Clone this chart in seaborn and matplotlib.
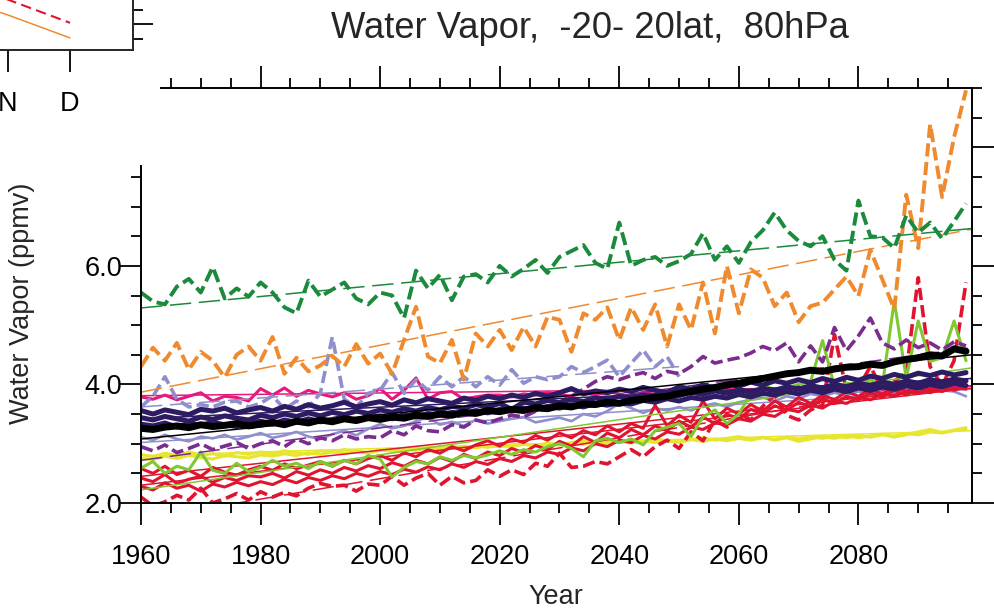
import numpy as np
import pandas as pd
import matplotlib
matplotlib.use("Agg")
import matplotlib.pyplot as plt
import seaborn as sns
from matplotlib.patches import Rectangle
from matplotlib.ticker import MultipleLocator, FixedLocator, NullFormatter

sns.set_style("white")
plt.rcParams['font.family'] = ['Liberation Sans', 'DejaVu Sans']

# ---------------- data (ppmv), every 2 years 1960-2098 ----------------
years = list(range(1960, 2100, 2))
years_short = list(range(1960, 2052, 2))

green_dash = [5.55, 5.40, 5.35, 5.65, 5.78, 5.55, 5.98, 5.45, 5.62, 5.48,
              5.72, 5.55, 5.30, 5.20, 5.75, 5.48, 5.60, 5.72, 5.45, 5.35,
              5.55, 5.50, 5.12, 5.92, 5.62, 5.85, 5.42, 5.82, 5.86, 5.72,
              6.00, 5.82, 5.95, 6.10, 5.88, 6.15, 6.25, 6.35, 6.05, 5.95,
              6.73, 6.00, 6.10, 6.15, 6.00, 6.08, 6.20, 6.55, 6.10, 6.33,
              6.05, 6.40, 6.60, 6.90, 6.60, 6.42, 6.33, 6.50, 6.10, 5.92,
              7.10, 6.50, 6.48, 6.30, 6.85, 6.56, 6.73, 6.46, 6.75, 7.05]
orange_dash = [4.30, 4.62, 4.40, 4.70, 4.25, 4.55, 4.40, 4.12, 4.50, 4.64,
               4.40, 4.80, 4.18, 4.45, 4.22, 4.32, 4.48, 4.30, 4.68, 4.35,
               4.52, 4.18, 4.75, 5.31, 4.47, 4.36, 4.75, 4.08, 4.86, 4.64,
               4.92, 4.58, 4.97, 4.64, 5.14, 5.09, 4.55, 5.20, 5.09, 5.30,
               4.75, 5.30, 4.92, 5.35, 4.64, 5.35, 4.92, 5.72, 4.86, 6.00,
               5.20, 5.94, 5.80, 5.32, 5.55, 5.05, 5.32, 5.38, 5.60, 5.82,
               5.49, 6.27, 5.77, 5.27, 7.20, 6.30, 8.39, 7.16, 8.17, 8.96]
lavender_dash = [3.62, 3.80, 4.13, 3.75, 3.62, 3.66, 3.62, 3.70, 3.72, 3.62,
                 3.68, 3.81, 3.58, 3.72, 3.62, 3.85, 4.80, 3.75, 3.62, 3.85,
                 3.90, 4.20, 3.85, 4.08, 3.90, 4.13, 3.96, 4.13, 3.96, 4.13,
                 3.99, 4.25, 4.02, 4.13, 4.08, 4.13, 4.30, 4.20, 4.30, 4.41,
                 4.13, 4.36, 4.58, 4.30, 4.47, 4.13]
purple_dash = [2.95, 2.88, 2.98, 2.85, 2.92, 3.00, 2.90, 2.96, 3.02, 2.92,
               3.00, 3.05, 2.95, 3.08, 3.00, 3.10, 3.05, 3.15, 3.08, 3.12,
               3.10, 3.22, 3.15, 3.30, 3.22, 3.20, 3.32, 3.28, 3.40, 3.35,
               3.42, 3.48, 3.45, 3.55, 3.58, 3.70, 3.80, 3.92, 4.05, 4.13,
               4.08, 4.15, 4.20, 4.10, 4.22, 4.18, 4.30, 4.47, 4.36, 4.41,
               4.45, 4.53, 4.64, 4.57, 4.70, 4.38, 4.65, 4.38, 4.96, 4.57,
               4.82, 5.12, 4.70, 4.60, 4.75, 4.62, 4.70, 4.58, 4.72, 4.65]
pink_solid = [3.79, 3.75, 3.82, 3.74, 3.80, 3.86, 3.72, 3.80, 3.78, 3.72,
              3.93, 3.82, 3.94, 3.80, 3.90, 3.84, 3.79, 3.86, 3.75, 3.81,
              3.93, 3.75, 3.90, 4.11, 3.75, 3.86, 3.88, 3.75, 3.79, 3.82,
              3.82, 3.79, 3.84, 3.82, 3.86, 3.83, 3.80, 3.86, 3.82, 3.88,
              3.84, 3.80, 3.87, 3.83, 3.89, 3.85, 3.90, 3.84, 3.88, 3.92,
              3.86, 3.90, 3.94, 3.88, 3.92, 3.96, 3.90, 3.95, 3.92, 3.98,
              3.94, 3.99, 3.92, 3.97, 4.00, 3.95, 4.02, 3.96, 4.00, 3.98]
black_solid = [3.26, 3.24, 3.28, 3.30, 3.27, 3.32, 3.29, 3.31, 3.34, 3.30,
               3.33, 3.36, 3.32, 3.38, 3.35, 3.40, 3.37, 3.42, 3.39, 3.44,
               3.41, 3.45, 3.43, 3.48, 3.46, 3.50, 3.48, 3.53, 3.51, 3.56,
               3.54, 3.58, 3.56, 3.61, 3.59, 3.64, 3.62, 3.67, 3.66, 3.70,
               3.68, 3.73, 3.75, 3.78, 3.80, 3.85, 3.88, 3.92, 3.95, 3.99,
               4.02, 4.06, 4.10, 4.14, 4.18, 4.20, 4.24, 4.22, 4.26, 4.29,
               4.30, 4.34, 4.32, 4.38, 4.42, 4.45, 4.50, 4.48, 4.60, 4.56]
indigo_1 = [3.56, 3.50, 3.57, 3.53, 3.49, 3.58, 3.55, 3.60, 3.52, 3.57,
            3.61, 3.55, 3.63, 3.58, 3.66, 3.60, 3.64, 3.70, 3.62, 3.67,
            3.71, 3.65, 3.74, 3.69, 3.76, 3.72, 3.68, 3.77, 3.73, 3.80,
            3.76, 3.82, 3.78, 3.85, 3.80, 3.86, 3.93, 3.84, 3.89, 3.86,
            3.92, 3.88, 3.95, 3.90, 3.86, 3.96, 3.92, 3.99, 3.94, 4.01,
            3.97, 4.04, 3.99, 4.06, 4.02, 4.08, 4.03, 4.10, 4.05, 4.12,
            4.07, 4.14, 4.10, 4.17, 4.12, 4.19, 4.15, 4.21, 4.16, 4.20]
indigo_2 = [3.44, 3.40, 3.46, 3.42, 3.38, 3.45, 3.41, 3.47, 3.43, 3.40,
            3.48, 3.44, 3.50, 3.46, 3.52, 3.47, 3.53, 3.49, 3.55, 3.51,
            3.57, 3.53, 3.59, 3.55, 3.61, 3.57, 3.63, 3.60, 3.66, 3.62,
            3.68, 3.58, 3.70, 3.67, 3.73, 3.69, 3.75, 3.71, 3.77, 3.74,
            3.80, 3.76, 3.82, 3.78, 3.84, 3.81, 3.87, 3.83, 3.89, 3.85,
            3.91, 3.87, 3.93, 3.90, 3.96, 3.92, 3.98, 3.94, 4.00, 3.96,
            4.02, 3.98, 4.04, 4.00, 4.06, 4.02, 4.08, 4.04, 4.09, 4.06]
indigo_3 = [3.33, 3.30, 3.35, 3.28, 3.34, 3.31, 3.36, 3.32, 3.29, 3.35,
            3.38, 3.33, 3.40, 3.36, 3.42, 3.37, 3.41, 3.45, 3.39, 3.44,
            3.47, 3.42, 3.49, 3.45, 3.51, 3.48, 3.53, 3.50, 3.56, 3.52,
            3.58, 3.55, 3.60, 3.57, 3.63, 3.60, 3.66, 3.62, 3.68, 3.65,
            3.70, 3.67, 3.73, 3.70, 3.76, 3.72, 3.78, 3.75, 3.80, 3.77,
            3.83, 3.79, 3.85, 3.82, 3.88, 3.84, 3.90, 3.86, 3.92, 3.88,
            3.94, 3.90, 3.96, 3.92, 3.98, 3.94, 4.00, 3.96, 4.02, 3.98]
lavender_solid = [3.11, 3.06, 3.15, 3.08, 3.04, 3.12, 3.09, 3.15, 3.07, 3.12,
                  3.18, 3.10, 3.14, 3.20, 3.12, 3.08, 3.16, 3.22, 3.14, 3.25,
                  3.33, 3.26, 3.30, 3.38, 3.45, 3.32, 3.37, 3.30, 3.40, 3.34,
                  3.38, 3.42, 3.45, 3.36, 3.40, 3.44, 3.38, 3.50, 3.46, 3.55,
                  3.68, 3.60, 3.52, 3.60, 3.56, 3.62, 3.56, 3.64, 3.68, 3.62,
                  3.70, 3.74, 3.78, 3.72, 3.80, 3.76, 3.84, 3.80, 3.86, 3.82,
                  3.88, 3.84, 3.90, 3.87, 3.92, 3.89, 3.94, 3.90, 3.88, 3.80]
yellow_1 = [2.82, 2.78, 2.84, 2.80, 2.86, 2.81, 2.83, 2.79, 2.85, 2.82,
            2.86, 2.83, 2.88, 2.85, 2.82, 2.88, 2.86, 2.90, 2.87, 2.84,
            2.89, 2.92, 2.88, 2.93, 2.90, 2.95, 2.92, 2.96, 2.93, 2.97,
            2.95, 2.98, 3.00, 2.96, 3.01, 2.98, 3.02, 3.05, 3.00, 3.04,
            3.02, 3.06, 3.03, 3.08, 3.05, 3.02, 3.07, 3.10, 3.06, 3.09,
            3.12, 3.08, 3.11, 3.06, 3.10, 3.04, 3.08, 3.12, 3.09, 3.14,
            3.10, 3.13, 3.16, 3.11, 3.15, 3.20, 3.24, 3.19, 3.23, 3.27]
yellow_2 = [2.76, 2.73, 2.79, 2.75, 2.80, 2.77, 2.74, 2.80, 2.78, 2.76,
            2.81, 2.79, 2.83, 2.80, 2.85, 2.82, 2.86, 2.84, 2.88, 2.85,
            2.90, 2.87, 2.91, 2.89, 2.93, 2.91, 2.95, 2.92, 2.96, 2.94,
            2.97, 2.95, 2.99, 2.96, 3.00, 2.98, 3.01, 2.99, 3.03, 3.00,
            3.04, 3.01, 3.05, 3.02, 3.06, 3.03, 3.07, 3.04, 3.08, 3.05,
            3.09, 3.06, 3.10, 3.07, 3.11, 3.08, 3.12, 3.09, 3.13, 3.10,
            3.14, 3.11, 3.15, 3.13, 3.17, 3.15, 3.20, 3.18, 3.22, 3.24]
lightgreen_solid = [2.59, 2.70, 2.50, 2.62, 2.56, 2.86, 2.55, 2.50, 2.67, 2.53,
                    2.60, 2.72, 2.62, 2.67, 2.58, 2.70, 2.62, 2.72, 2.66, 2.80,
                    2.74, 2.44, 2.60, 2.70, 2.66, 2.78, 2.72, 2.80, 2.76, 2.81,
                    2.88, 2.82, 2.90, 2.86, 2.95, 3.00, 2.92, 2.78, 3.05, 3.09,
                    3.02, 3.08, 2.98, 3.22, 3.28, 3.34, 3.12, 3.45, 3.57, 3.34,
                    3.50, 3.85, 3.98, 3.92, 3.94, 4.00, 4.05, 4.74, 3.96, 4.02,
                    4.00, 4.08, 3.98, 5.41, 4.10, 5.07, 4.39, 4.45, 5.07, 4.40]
red_dash = [2.10, 1.95, 2.02, 2.13, 2.05, 2.25, 2.00, 2.07, 2.16, 2.05,
            2.19, 2.10, 2.18, 2.12, 2.25, 2.33, 2.28, 2.30, 2.20, 2.32,
            2.30, 2.45, 2.30, 2.42, 2.50, 2.30, 2.45, 2.34, 2.38, 2.56,
            2.45, 2.56, 2.48, 2.67, 2.62, 2.84, 2.60, 2.62, 2.70, 2.66,
            2.78, 2.90, 2.78, 2.95, 3.06, 2.92, 3.20, 3.05, 3.40, 3.28,
            3.52, 3.40, 3.63, 3.82, 3.48, 3.40, 3.57, 3.65, 4.84, 3.90,
            3.95, 4.30, 3.92, 4.05, 4.20, 5.80, 4.30, 3.98, 4.40, 5.72]
red_solid_1 = [2.58, 2.50, 2.62, 2.48, 2.55, 2.45, 2.60, 2.52, 2.47, 2.56,
               2.62, 2.55, 2.66, 2.58, 2.64, 2.70, 2.62, 2.72, 2.66, 2.75,
               2.80, 2.72, 2.85, 2.78, 2.90, 2.84, 2.95, 2.88, 2.98, 3.05,
               2.96, 3.08, 3.02, 3.14, 3.06, 3.18, 3.10, 3.22, 3.15, 3.30,
               3.20, 3.34, 3.26, 3.65, 3.30, 3.48, 3.36, 3.72, 3.42, 3.60,
               3.50, 3.66, 3.55, 3.72, 3.62, 3.78, 3.68, 3.82, 3.74, 3.88,
               3.80, 3.92, 3.84, 3.96, 3.88, 4.00, 3.92, 4.04, 3.96, 4.06]
red_solid_2 = [2.42, 2.36, 2.48, 2.33, 2.40, 2.45, 2.35, 2.43, 2.38, 2.46,
               2.44, 2.50, 2.42, 2.53, 2.47, 2.56, 2.50, 2.60, 2.54, 2.63,
               2.58, 2.68, 2.62, 2.72, 2.66, 2.77, 2.70, 2.82, 2.75, 2.86,
               2.80, 2.92, 2.85, 2.97, 2.90, 3.04, 2.96, 3.12, 3.02, 3.18,
               3.10, 3.24, 3.15, 3.30, 3.22, 3.38, 3.28, 3.45, 3.34, 3.50,
               3.42, 3.58, 3.50, 3.64, 3.56, 3.70, 3.62, 3.76, 3.68, 3.80,
               3.74, 3.86, 3.78, 3.90, 3.82, 3.94, 3.86, 3.97, 3.90, 3.98]
red_solid_3 = [2.28, 2.22, 2.34, 2.25, 2.30, 2.20, 2.32, 2.27, 2.35, 2.29,
               2.36, 2.31, 2.40, 2.34, 2.43, 2.38, 2.46, 2.41, 2.50, 2.45,
               2.53, 2.48, 2.57, 2.52, 2.61, 2.56, 2.66, 2.60, 2.70, 2.65,
               2.75, 2.70, 2.80, 2.76, 2.86, 2.82, 2.93, 2.88, 3.00, 2.95,
               3.06, 3.02, 3.14, 3.08, 3.20, 3.16, 3.28, 3.24, 3.35, 3.32,
               3.42, 3.38, 3.50, 3.46, 3.58, 3.54, 3.65, 3.60, 3.72, 3.68,
               3.78, 3.74, 3.84, 3.80, 3.88, 3.85, 3.92, 3.88, 3.95, 3.92]

# linear-trend end values (start year, end year, start, end)
trend_green_dash = [1960, 2099, 5.29, 6.63]
trend_orange_dash = [1960, 2099, 3.87, 6.62]
trend_lavender_dash = [1960, 2050, 3.62, 4.30]
trend_purple_dash = [1960, 2099, 2.72, 4.62]
trend_pink = [1960, 2099, 3.81, 3.97]
trend_black = [1960, 2099, 3.08, 4.50]
trend_indigo = [1960, 2099, 3.42, 4.10]
trend_lavender = [1960, 2099, 3.02, 3.92]
trend_yellow = [1960, 2099, 2.80, 3.22]
trend_lightgreen = [1960, 2099, 2.22, 4.28]
trend_red_dash = [1960, 2099, 1.72, 4.12]
trend_red_1 = [1960, 2099, 2.45, 3.98]
trend_red_2 = [1960, 2099, 2.30, 3.94]

# neighbouring seasonal panel (only its right end is in the picture)
inset_months = [10, 11, 12]
inset_orange = [5.50, 5.155, 4.76]
inset_red = [5.85, 5.42, 5.02]
inset_ticks = [11, 12]
inset_labels = ["N", "D"]

# ---------------- styles ----------------
GREEN = "#1b8a3d"
ORANGE = "#ef8a2e"
LAV = "#8f8fcd"
PURPLE = "#7c2b8e"
PINK = "#e6197d"
INDIGO = "#2d1b63"
YELLOW = "#e6e630"
LGREEN = "#7fc832"
RED = "#e0142f"
DASH = (0, (3.4, 1.4))
TDASH = (0, (14, 5))

W, H = 994, 610
fig = plt.figure(figsize=(W / 100, H / 100), dpi=100)
ax = fig.add_axes([141 / W, 1 - 503 / H, (972 - 141) / W, (503 - 88) / H])


def series(x, y, color, lw, ls="-"):
    df = pd.DataFrame({"Year": x, "v": y})
    sns.lineplot(data=df, x="Year", y="v", ax=ax, color=color, linewidth=lw,
                 linestyle=ls, errorbar=None, sort=False)


def trend(t, color, ls="-", lw=1.1):
    df = pd.DataFrame({"Year": t[:2], "v": t[2:]})
    sns.lineplot(data=df, x="Year", y="v", ax=ax, color=color, linewidth=lw,
                 linestyle=ls, errorbar=None, sort=False)


series(years, yellow_1, YELLOW, 2.2)
series(years, yellow_2, YELLOW, 2.2)
trend(trend_yellow, YELLOW)
series(years, lavender_solid, LAV, 1.9)
trend(trend_lavender, LAV)
series(years, red_solid_3, RED, 2.2)
series(years, red_solid_2, RED, 2.2)
series(years, red_solid_1, RED, 2.2)
trend(trend_red_1, RED)
trend(trend_red_2, RED)
series(years, red_dash, RED, 2.6, DASH)
trend(trend_red_dash, RED, TDASH)
series(years, lightgreen_solid, LGREEN, 2.2)
trend(trend_lightgreen, LGREEN)
series(years, pink_solid, PINK, 2.2)
trend(trend_pink, PINK)
series(years_short, lavender_dash, LAV, 2.6, DASH)
trend(trend_lavender_dash, LAV, TDASH)
series(years, purple_dash, PURPLE, 2.6, DASH)
trend(trend_purple_dash, PURPLE, TDASH)
series(years, indigo_3, INDIGO, 3.6)
series(years, indigo_2, INDIGO, 3.6)
series(years, indigo_1, INDIGO, 3.6)
trend(trend_indigo, INDIGO)
series(years, black_solid, "black", 5.0)
trend(trend_black, "black")
series(years, orange_dash, ORANGE, 2.8, DASH)
trend(trend_orange_dash, ORANGE, TDASH)
series(years, green_dash, GREEN, 2.8, DASH)
trend(trend_green_dash, GREEN, TDASH)

ax.xaxis.set_major_locator(FixedLocator([1960, 1980, 2000, 2020, 2040, 2060, 2080]))
ax.xaxis.set_minor_locator(MultipleLocator(5))
ax.yaxis.set_major_locator(FixedLocator([2, 4, 6, 8]))
ax.yaxis.set_minor_locator(MultipleLocator(0.5))
ax.set_yticklabels(["2.0", "4.0", "6.0", "8.0"])
ax.set_xlim(1960, 2099)
ax.set_ylim(2.0, 9.0)
ax.set_xlabel("")
ax.set_ylabel("")
for s in ax.spines.values():
    s.set_linewidth(1.4)
    s.set_color("black")
ax.tick_params(which="both", direction="out", bottom=True, left=True,
               top=True, right=True, labeltop=False, labelright=False,
               width=1.3, colors="black")
ax.tick_params(which="major", length=15.5, labelsize=19.5, pad=14)
ax.tick_params(axis="y", which="major", pad=-2)
ax.tick_params(which="minor", length=7.5)

fig.text(556 / W, 1 - 597 / H, "Year", ha="center", va="center", fontsize=19.5)
fig.text(22 / W, 1 - 303 / H, "Water Vapor (ppmv)", ha="center", va="center",
         rotation=90, fontsize=19.5)
fig.text(590 / W, 1 - 29 / H, "Water Vapor,  -20- 20lat,  80hPa", ha="center",
         va="center", fontsize=26.2)

# white area of the neighbouring panel covering the upper-left corner
fig.patches.append(Rectangle((0, 1 - 165 / H), 160 / W, 165 / H,
                             transform=fig.transFigure, facecolor="white",
                             edgecolor="none", zorder=5))

ax2 = fig.add_axes([-200 / W, 1 - 50 / H, 333 / W, 100 / H], zorder=10)
ax2.set_facecolor("white")
sns.lineplot(x=inset_months, y=inset_orange, ax=ax2, color=ORANGE, linewidth=1.1,
             errorbar=None)
sns.lineplot(x=inset_months, y=inset_red, ax=ax2, color=RED, linewidth=1.5,
             linestyle=(0, (5, 2.6)), errorbar=None)
ax2.set_xticks(inset_ticks)
ax2.set_xticklabels(inset_labels)
ax2.yaxis.tick_right()
ax2.yaxis.set_major_locator(FixedLocator([5, 6]))
ax2.yaxis.set_minor_locator(MultipleLocator(0.25))
ax2.yaxis.set_major_formatter(NullFormatter())
ax2.set_xlim(12 - 270 / 62, 12 + 63 / 62)
ax2.set_ylim(5 - 26 / 58, 5 + 74 / 58)
ax2.spines["left"].set_visible(False)
ax2.spines["top"].set_visible(False)
for s in ("right", "bottom"):
    ax2.spines[s].set_linewidth(1.4)
ax2.tick_params(which="both", direction="out", width=1.3, colors="black")
ax2.tick_params(axis="x", which="major", bottom=True, length=15.5,
                labelsize=19.5, pad=14)
ax2.tick_params(axis="x", which="minor", bottom=False)
ax2.tick_params(axis="y", which="both", right=True, left=False, labelright=False)
ax2.tick_params(axis="y", which="major", length=14.5)
ax2.tick_params(axis="y", which="minor", length=7)
ax2.set_xlabel("")
ax2.set_ylabel("")

fig.savefig("out.png", dpi=100)
